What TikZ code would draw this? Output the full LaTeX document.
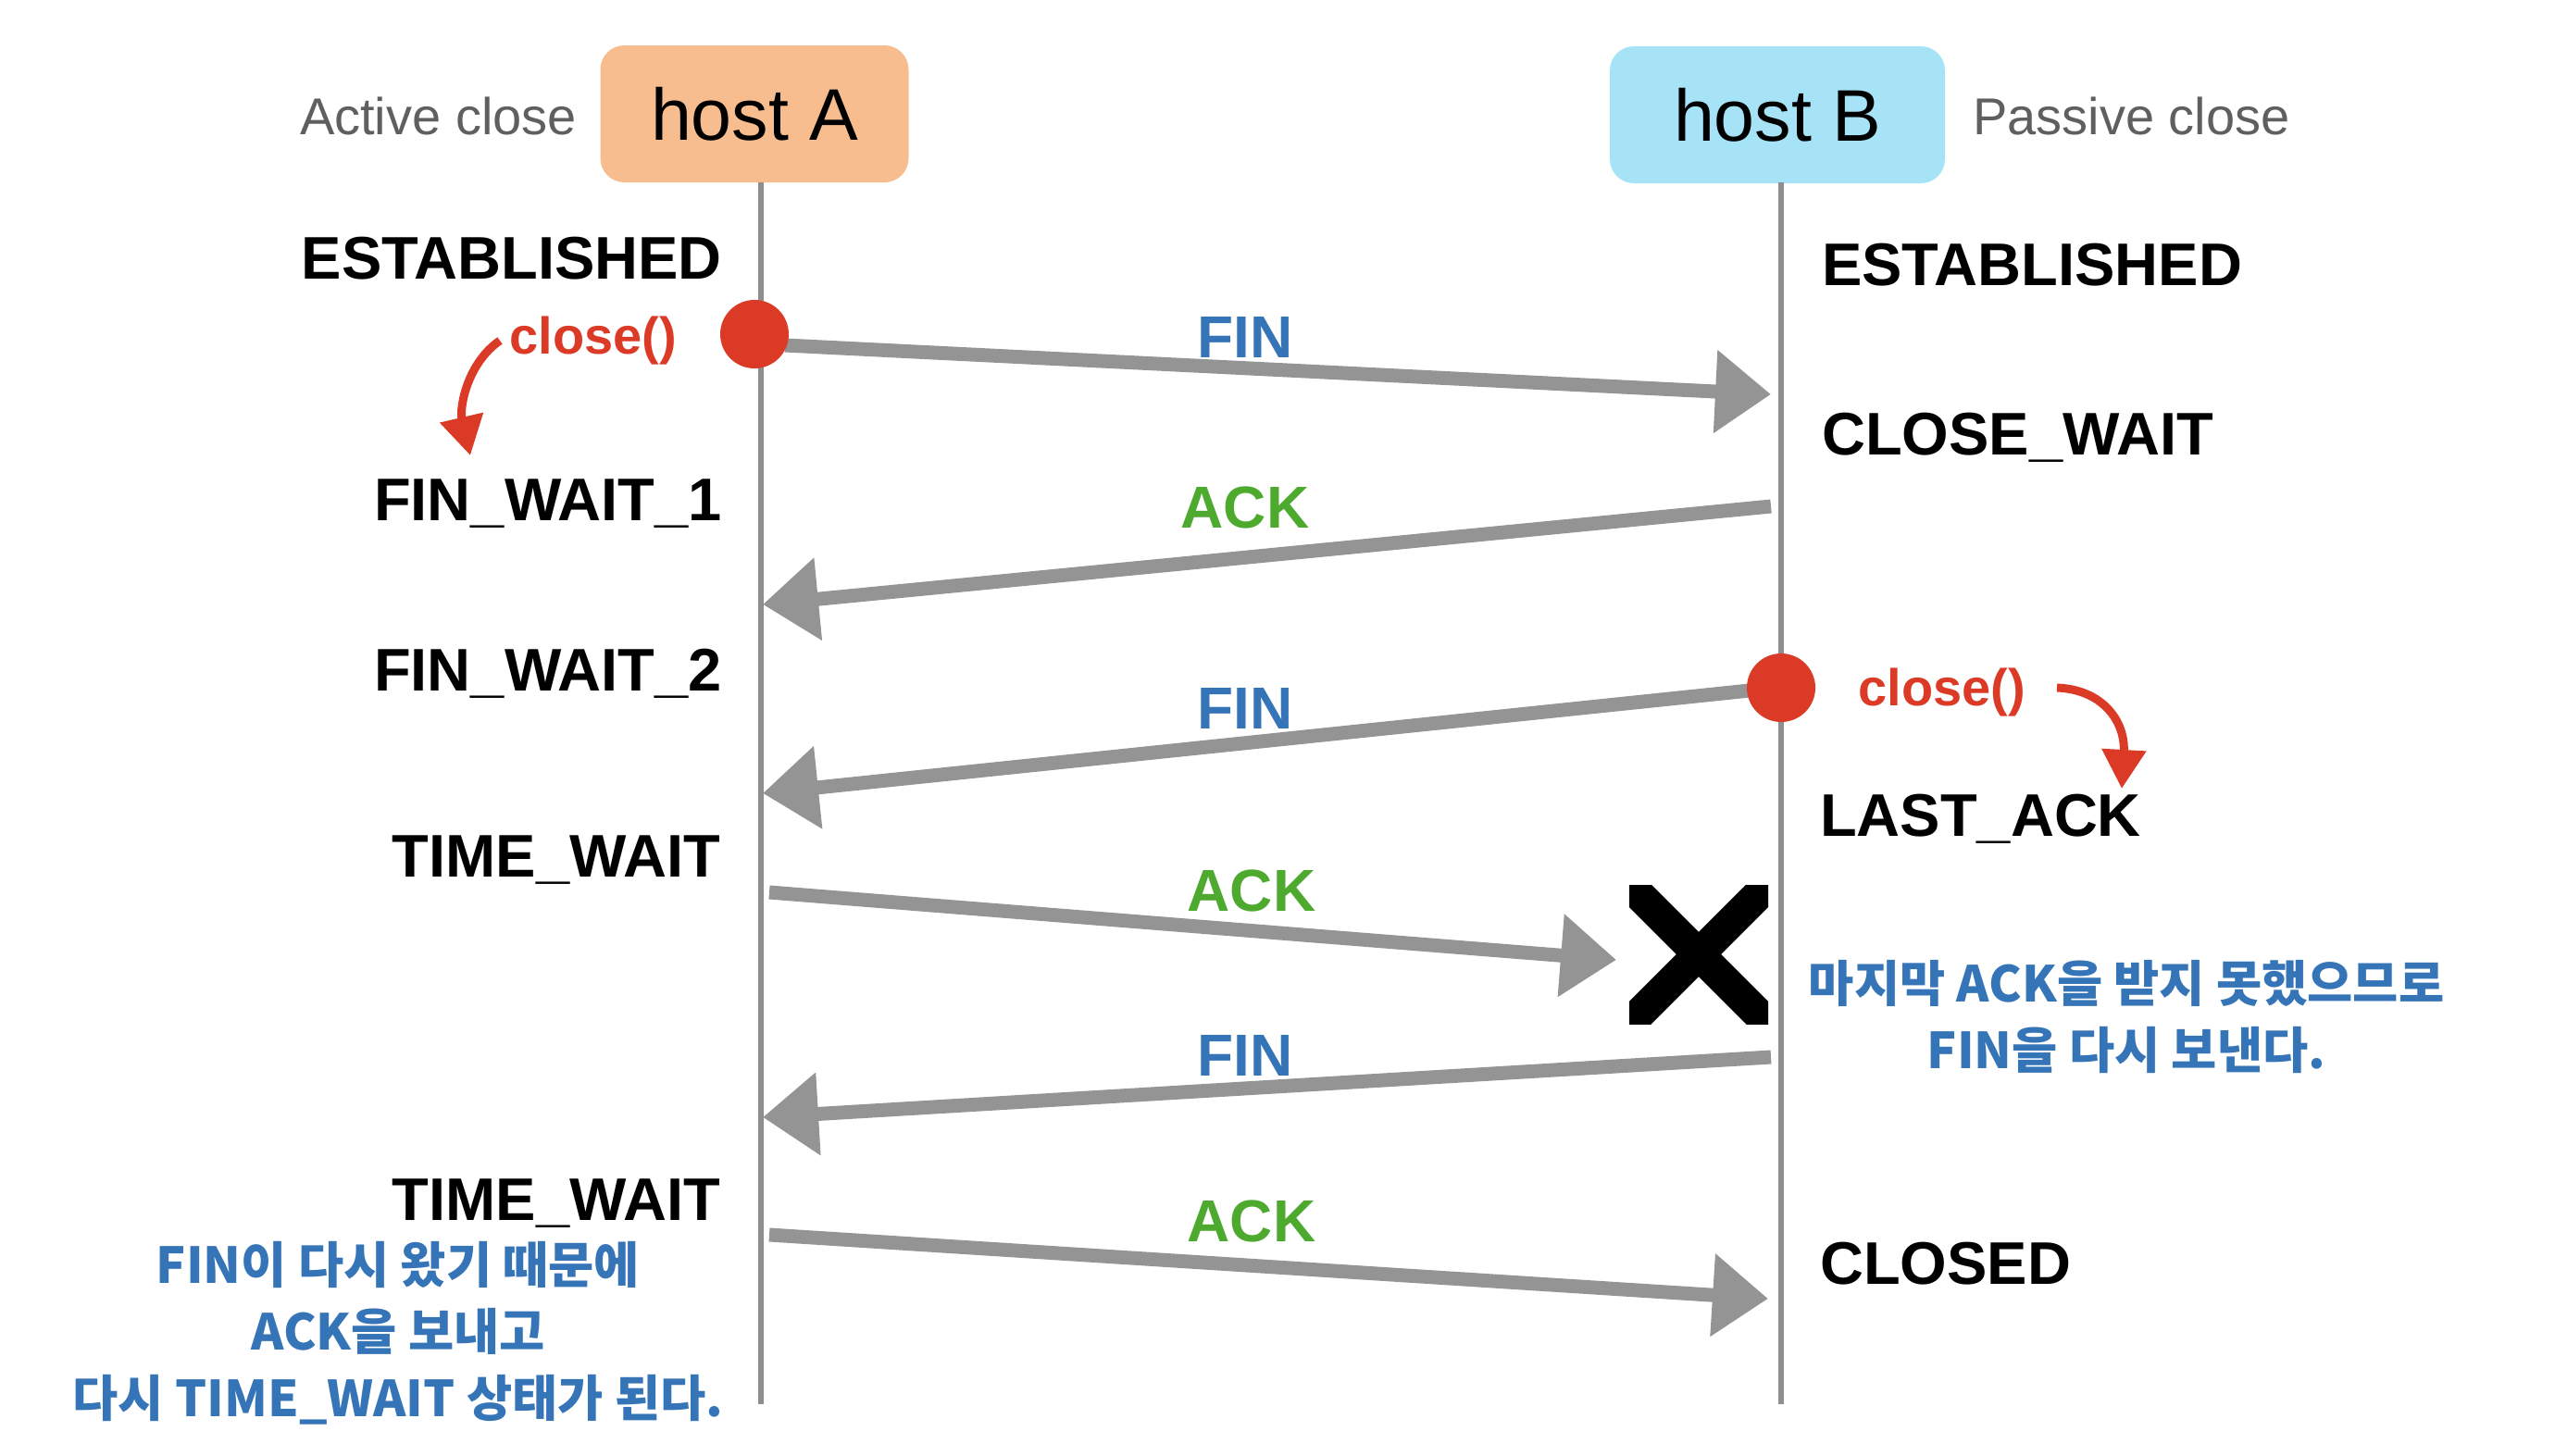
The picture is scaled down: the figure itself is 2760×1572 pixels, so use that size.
\documentclass[tikz,border=0pt]{standalone}
\usepackage{fontspec}
\setmainfont{Liberation Sans}
\newfontfamily\kr{Noto Sans CJK KR}
\usetikzlibrary{arrows.meta}
\definecolor{peach}{HTML}{F8BD8E}
\definecolor{skyb}{HTML}{A6E3F7}
\definecolor{lifeg}{HTML}{8E8E8E}
\definecolor{msgg}{HTML}{949494}
\definecolor{dotred}{HTML}{DB3B26}
\definecolor{lblue}{HTML}{3574B7}
\definecolor{lgreen}{HTML}{4DAA2F}
\definecolor{capg}{HTML}{5F5F5F}
\tikzset{
  hostbox/.style={rounded corners=26pt, inner sep=0pt, font=\fontsize{79}{90}\selectfont},
  side/.style={inner sep=0pt, text=capg, font=\fontsize{56}{60}\selectfont},
  state/.style={inner sep=0pt, text height=47pt, text depth=0pt, font=\bfseries\fontsize{65}{70}\selectfont},
  lifeline/.style={draw=lifeg, line width=6pt},
  dot/.style={circle, fill=dotred, minimum size=74pt, inner sep=0pt},
  msg/.style={draw=msgg, line width=15pt, -{Triangle[length=60pt,width=86pt]}},
  lbl/.style={inner sep=0pt, text height=46pt, text depth=0pt, font=\bfseries\fontsize{64}{70}\selectfont},
  finl/.style={lbl, text=lblue},
  ackl/.style={lbl, text=lgreen},
  closel/.style={inner sep=0pt, text=dotred, font=\bfseries\fontsize{56}{60}\selectfont},
  redarr/.style={draw=dotred, line width=9pt, -{Triangle[length=42pt,width=46pt]}},
  note/.style={inner sep=0pt, align=center, text=lblue, font=\kr\bfseries\fontsize{53.5}{72}\selectfont},
}
\begin{document}
\begin{tikzpicture}[x=1pt, y=-1pt]
\useasboundingbox (0,0) rectangle (2760,1572);
% hosts
\node[hostbox, fill=peach, minimum width=333pt, minimum height=148pt] (hostA) at (815,123) {host A};
\node[hostbox, fill=skyb, minimum width=362pt, minimum height=148pt] (hostB) at (1920,124) {host B};
\node[side, anchor=east] (actv) at (623,125) {Active close};
\node[side, anchor=west] (pasv) at (2131,125) {Passive close};
% lifelines
\coordinate (aTop) at (822,197);
\coordinate (aBot) at (822,1517);
\coordinate (bTop) at (1924,197);
\coordinate (bBot) at (1924,1517);
\draw[lifeline] (aTop) -- (aBot);
\draw[lifeline] (bTop) -- (bBot);
% states A
\node[state, anchor=east] (sa1) at (780,278) {ESTABLISHED};
\node[state, anchor=east] (sa2) at (780,539) {FIN\_WAIT\_1};
\node[state, anchor=east] (sa3) at (780,723) {FIN\_WAIT\_2};
\node[state, anchor=east] (sa4) at (778,924) {TIME\_WAIT};
\node[state, anchor=east] (sa5) at (778,1295) {TIME\_WAIT};
% states B
\node[state, anchor=west] (sb1) at (1968,285) {ESTABLISHED};
\node[state, anchor=west] (sb2) at (1968,468) {CLOSE\_WAIT};
\node[state, anchor=west] (sb3) at (1966,880) {LAST\_ACK};
\node[state, anchor=west] (sb4) at (1966,1364) {CLOSED};
% message endpoints
\coordinate (m1s) at (848,373);  \coordinate (m1e) at (1913,426);
\coordinate (m2s) at (1913,547); \coordinate (m2e) at (824,653);
\coordinate (m3s) at (1890,746); \coordinate (m3e) at (824,857);
\coordinate (m4s) at (831,964);  \coordinate (m4e) at (1746,1037);
\coordinate (m5s) at (1913,1142);\coordinate (m5e) at (824,1207);
\coordinate (m6s) at (831,1334); \coordinate (m6e) at (1910,1403);
\draw[msg] (m1s) -- (m1e);
\draw[msg] (m2s) -- (m2e);
\draw[msg] (m3s) -- (m3e);
\draw[msg] (m4s) -- (m4e);
\draw[msg] (m5s) -- (m5e);
\draw[msg] (m6s) -- (m6e);
% dots
\node[dot] (d1) at (815,361) {};
\node[dot] (d2) at (1924,743) {};
% labels
\node[finl] (l1) at (1345,363) {FIN};
\node[ackl] (l2) at (1345,547) {ACK};
\node[finl] (l3) at (1345,764) {FIN};
\node[ackl] (l4) at (1352,961) {ACK};
\node[finl] (l5) at (1345,1139) {FIN};
\node[ackl] (l6) at (1352,1318) {ACK};
% close() calls
\node[closel] (c1) at (641,368) {close()};
\node[closel] (c2) at (2098,748) {close()};
\coordinate (r1s) at (540,368); \coordinate (r1e) at (508,492);
\coordinate (r2s) at (2222,743); \coordinate (r2e) at (2292,852);
\draw[redarr] (r1s) .. controls (505,392) and (496,440) .. (r1e);
\draw[redarr] (r2s) .. controls (2272,745) and (2296,780) .. (r2e);
% lost packet
\begin{scope}
\clip (1760,956) rectangle (1910,1106);
\draw[line width=34pt] (1745,941) -- (1925,1121);
\draw[line width=34pt] (1745,1121) -- (1925,941);
\end{scope}
% notes
\node[note] (n1) at (2297,1099) {마지막 ACK을 받지 못했으므로\\FIN을 다시 보낸다.};
\node[note] (n2) at (430,1440) {FIN이 다시 왔기 때문에\\ACK을 보내고\\다시 TIME\_WAIT 상태가 된다.};
\end{tikzpicture}
\end{document}
